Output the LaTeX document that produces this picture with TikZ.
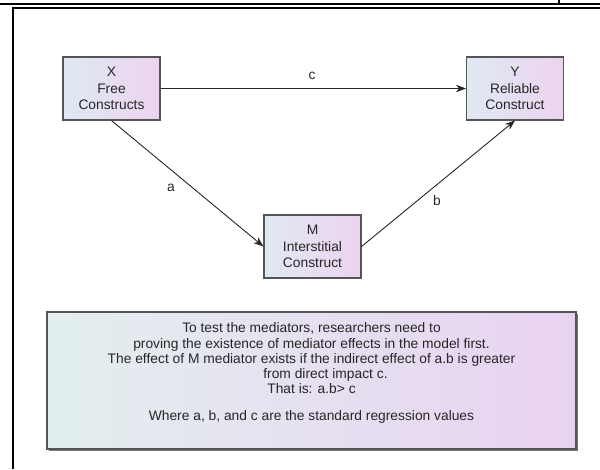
\documentclass[tikz,border=0pt]{standalone}
\usepackage{fontspec}
\setmainfont{Liberation Sans}
\usetikzlibrary{arrows.meta}
\definecolor{txt}{HTML}{262626}
\definecolor{edge}{HTML}{555555}
\definecolor{boxL}{HTML}{DFE9F2}
\definecolor{boxR}{HTML}{EDD3F0}
\definecolor{noteL}{HTML}{E3EFEE}
\definecolor{noteR}{HTML}{E8D2F2}
\tikzset{
  frameline/.style={line width=2pt, black},
  construct/.style={draw=edge, line width=1.1pt, left color=boxL, right color=boxR,
    minimum width=97pt, minimum height=63pt, inner sep=0pt, align=center,
    text=txt, font=\fontsize{13.8}{16.5}\selectfont},
  link/.style={draw=txt, line width=0.9pt, -{Stealth[length=10pt,width=7.5pt]}},
  lbl/.style={text=txt, font=\fontsize{13.8}{16}\selectfont, inner sep=0pt},
  note/.style={draw=edge, line width=1.1pt, left color=noteL, right color=noteR}
}
\begin{document}
\begin{tikzpicture}[x=1pt,y=-1pt]
\useasboundingbox (0,0) rectangle (600,469);
% outer frame lines
\draw[frameline] (0,3.5) -- (600,3.5);
\draw[line width=1.5pt] (559,0) -- (559,3.5);
\draw[frameline] (12.5,469) -- (12.5,8) -- (600,8);
% construct boxes
\node[construct] (X) at (111.5,88.5) {X\\Free\\Constructs};
\node[construct] (Y) at (515,88.5) {Y\\Reliable\\Construct};
\node[construct] (M) at (312.5,246.5) {M\\Interstitial\\Construct};
% connectors
\draw[link] (X.east) -- (Y.west);
\draw[link] (X.south) -- (M.west);
\draw[link] (M.east) -- (Y.south);
\node[lbl] (lc) at (312,76) {c};
\node[lbl] (la) at (171,188) {a};
\node[lbl] (lb) at (437,201) {b};
% note box with shadow
\fill[edge!80] (49,314) rectangle (578,451);
\path[note] (47,312) rectangle (576,449);
\node[text=txt, align=center, inner sep=0pt, font=\fontsize{13.8}{15.3}\selectfont, anchor=north] (note) at (311.5,322.5)
{To test the mediators, researchers need to\\
proving the existence of mediator effects in the model first.\\
The effect of M mediator exists if the indirect effect of a.b is greater\\
\hspace*{28pt}from direct impact c.\\
That is: a.b> c\\[11pt]
Where a, b, and c are the standard regression values};
\end{tikzpicture}
\end{document}
